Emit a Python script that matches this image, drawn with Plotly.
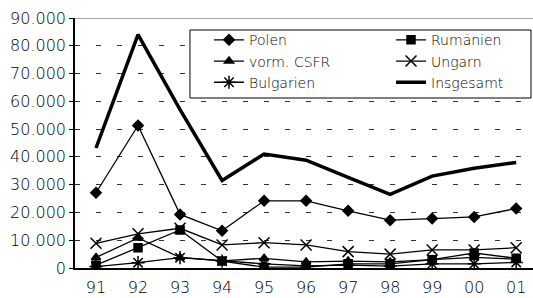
import plotly.graph_objects as go

years = ["91", "92", "93", "94", "95", "96", "97", "98", "99", "00", "01"]
polen = [27100, 51300, 19300, 13400, 24200, 24200, 20600, 17200, 17800, 18400, 21400]
rumaenien = [1000, 7300, 13700, 2500, 300, 300, 1500, 1500, 3000, 5400, 3500]
csfr = [3800, 10800, 3800, 2600, 3500, 2200, 2500, 2200, 3000, 3800, 3200]
ungarn = [8900, 12300, 14300, 8300, 9100, 8300, 5900, 5000, 6500, 6500, 7300]
bulgarien = [500, 1900, 3700, 2500, 1500, 800, 1000, 700, 1500, 1500, 2000]
insgesamt = [43200, 84000, 57000, 31500, 41000, 38800, 32600, 26500, 33100, 35900, 38000]

yticks = [0, 10000, 20000, 30000, 40000, 50000, 60000, 70000, 80000, 90000]

fig = go.Figure()

def add(name, vals, symbol, size, legend, width=1.3, mode="lines+markers"):
    fig.add_trace(go.Scatter(
        x=years, y=vals, name=name, mode=mode, legend=legend,
        line=dict(color="black", width=width),
        marker=dict(symbol=symbol, size=size, color="black",
                    line=dict(color="black", width=1.5)),
    ))

add("Polen", polen, "diamond", 8, "legend")
add("Rumänien", rumaenien, "square", 8, "legend2")
add("vorm. CSFR", csfr, "triangle-up", 8, "legend")
add("Ungarn", ungarn, "x-thin-open", 11, "legend2")
add("Bulgarien", bulgarien, "asterisk-open", 11, "legend")
add("Insgesamt", insgesamt, None, 0, "legend2", width=3.5, mode="lines")

legend_common = dict(
    orientation="v", yanchor="top", xanchor="left",
    bgcolor="rgba(0,0,0,0)", borderwidth=0,
    font=dict(family="DejaVu Sans", size=14, color="black", weight=300),
    itemsizing="trace", tracegroupgap=0,
)

tick_font = dict(family="DejaVu Sans", size=16, color="black", weight=300)

fig.update_layout(
    width=533, height=298,
    margin=dict(l=75, r=0, t=18, b=30),
    paper_bgcolor="white", plot_bgcolor="white",
    separators=",.",
    font=dict(family="DejaVu Sans", size=16, color="black", weight=300),
    showlegend=True,
    legend=dict(x=0.2926, y=0.975, **legend_common),
    legend2=dict(x=0.690, y=0.975, **legend_common),
    xaxis=dict(
        type="category", range=[-0.5, 10.4], automargin=False,
        showline=True, linecolor="black", linewidth=1.5,
        showgrid=False, ticks="outside", ticklen=4,
        tickcolor="rgba(0,0,0,0)", tickfont=tick_font,
    ),
    yaxis=dict(
        range=[0, 90000], tickvals=yticks, tickformat=",d", automargin=False,
        showline=True, linecolor="black", linewidth=1.5,
        ticks="outside", ticklen=4, tickcolor="black",
        showgrid=True, gridcolor="#333333", gridwidth=1, griddash="5px,16px",
        zeroline=False, tickfont=tick_font,
    ),
    shapes=[
        dict(type="line", xref="paper", yref="y", x0=0, x1=1,
             y0=90000, y1=90000, line=dict(color="#888888", width=1.5)),
        dict(type="rect", xref="paper", yref="paper", x0=0.251, x1=0.9956,
             y0=0.68, y1=0.952, line=dict(color="black", width=1),
             fillcolor="white", layer="above"),
    ],
)

fig.write_html("out.html", config={"displayModeBar": False},
               post_script="document.body.style.margin='0';")
